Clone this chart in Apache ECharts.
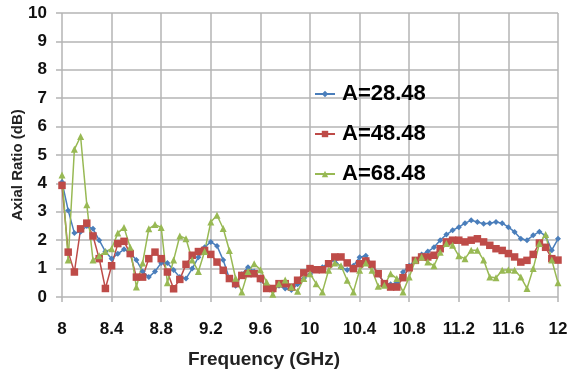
<!DOCTYPE html>
<html>
<head>
<meta charset="utf-8">
<script src="https://cdn.jsdelivr.net/npm/echarts@6/dist/echarts.min.js"></script>
<style>
  html, body { margin: 0; padding: 0; background: #fff; }
  #chart { width: 569px; height: 374px; }
</style>
</head>
<body>
<div id="chart"></div>
<script>
// frequency points (GHz), 0.05 step
const freq = [];
for (let i = 0; i <= 80; i++) freq.push(+(8 + i * 0.05).toFixed(2));

const xTicks = [8, 8.4, 8.8, 9.2, 9.6, 10, 10.4, 10.8, 11.2, 11.6, 12];
const seriesNames = ["A=28.48", "A=48.48", "A=68.48"];

// axial ratio (dB)
const arA28 = [
  4.05, 3.05, 2.25, 2.3, 2.5, 2.4, 2.0, 1.6, 1.35, 1.52,
  1.68, 1.55, 1.3, 0.9, 0.7, 0.9, 1.2, 1.2, 0.95, 0.7,
  0.65, 1.0, 1.4, 1.75, 1.94, 1.8, 1.3, 0.65, 0.4, 0.8,
  1.05, 0.9, 0.6, 0.35, 0.3, 0.4, 0.3, 0.25, 0.45, 0.65,
  0.8, 0.95, 1.05, 1.2, 1.3, 1.05, 0.95, 1.1, 1.4, 1.45,
  1.15, 0.8, 0.5, 0.45, 0.5, 0.88, 1.1, 1.3, 1.5, 1.6,
  1.75, 2.0, 2.2, 2.35, 2.46, 2.6, 2.7, 2.64, 2.58, 2.6,
  2.64, 2.6, 2.46, 2.29, 2.05, 2.0, 2.17, 2.3, 2.15, 1.65,
  2.05
];
const arA48 = [
  3.93, 1.58, 0.88, 2.4, 2.6, 2.15, 1.35, 0.3, 1.1, 1.88,
  1.96, 1.53, 0.7, 0.7, 1.35, 1.58, 1.35, 0.88, 0.29, 0.62,
  1.15, 1.47, 1.6, 1.64, 1.5, 1.23, 0.94, 0.65, 0.47, 0.76,
  0.82, 0.82, 0.65, 0.3, 0.3, 0.47, 0.47, 0.35, 0.59, 0.85,
  1.0, 0.96, 0.96, 1.17, 1.41, 1.41, 1.2, 1.0, 1.17, 1.27,
  1.15, 0.82, 0.47, 0.35, 0.35, 0.68, 1.03, 1.29, 1.41, 1.41,
  1.47, 1.7, 1.94, 2.0, 2.0, 1.94, 2.0, 2.05, 1.94, 1.82,
  1.7, 1.64, 1.53, 1.41, 1.23, 1.29, 1.5, 1.9, 1.75, 1.35,
  1.3
];
const arA68 = [
  4.3, 1.3, 5.2, 5.65, 3.25, 1.3, 1.45, 1.6, 1.7, 2.25,
  2.45, 1.75, 0.35, 1.2, 2.4, 2.55, 2.45, 0.5, 1.3, 2.15,
  2.05, 1.3, 0.9, 1.6, 2.64, 2.88, 2.41, 1.64, 0.66, 0.18,
  0.9, 1.17, 0.96, 0.53, 0.1, 0.47, 0.6, 0.35, 0.2, 0.65,
  0.82, 0.47, 0.18, 0.94, 1.2, 1.1, 0.59, 0.18, 0.94, 1.2,
  0.94, 0.38, 0.41, 0.82, 0.65, 0.18, 0.7, 1.29, 1.41, 1.23,
  1.1, 1.58, 1.88, 1.82, 1.45, 1.35, 1.65, 1.65, 1.3, 0.7,
  0.68, 0.94, 0.96, 0.94, 0.7, 0.3, 1.0, 1.88, 2.2, 1.3,
  0.5
];

const colors = ["#4a7ebb", "#be4b48", "#98b954"];
const symbols = ["diamond", "rect", "triangle"];
const sizes = [6, 7.5, 7];
const FONT = "Liberation Sans";

const chart = echarts.init(document.getElementById("chart"));

const makeSeries = (name, vals, idx) => ({
  name: name,
  type: "line",
  data: freq.map((f, i) => [f, vals[i]]),
  symbol: symbols[idx],
  symbolSize: sizes[idx],
  showAllSymbol: true,
  color: colors[idx],
  lineStyle: { width: 1.5, color: colors[idx] },
  itemStyle: { color: colors[idx] },
});

chart.setOption({
  animation: false,
  grid: { left: 62, right: 11, top: 13, bottom: 77, outerBoundsMode: "none" },
  legend: {
    orient: "vertical",
    left: 309,
    top: 78,
    itemGap: 18,
    itemWidth: 20,
    itemHeight: 8,
    textStyle: {
      fontFamily: FONT, fontSize: 22, fontWeight: "bold", color: "#000",
      padding: [0, 0, 0, 2],
    },
    data: seriesNames,
  },
  xAxis: {
    type: "value",
    min: 8,
    max: 12,
    interval: 0.4,
    name: "Frequency (GHz)",
    nameLocation: "middle",
    nameGap: 53,
    nameMoveOverlap: false,
    nameTextStyle: {
      fontFamily: FONT, fontSize: 19, fontWeight: "bold", color: "#222",
      padding: [0, 92, 0, 0],
    },
    axisLine: { show: false },
    axisTick: { show: true, length: 5, lineStyle: { color: "#b4b4b4", width: 1.5 } },
    axisLabel: {
      margin: 24,
      fontFamily: FONT,
      fontSize: 17,
      fontWeight: "bold",
      color: "#111",
      formatter: (v) => {
        const t = xTicks.find((x) => Math.abs(x - v) < 1e-6);
        return t === undefined ? "" : String(t);
      },
    },
    splitLine: { show: true, lineStyle: { color: "#b4b4b4", width: 1.5 } },
  },
  yAxis: {
    type: "value",
    min: 0,
    max: 10,
    interval: 1,
    name: "Axial Ratio (dB)",
    nameLocation: "middle",
    nameGap: 37,
    nameMoveOverlap: false,
    nameTextStyle: {
      fontFamily: FONT, fontSize: 15, fontWeight: "bold", color: "#222",
      padding: [0, 20, 0, 0],
    },
    axisLine: { show: false },
    axisTick: { show: true, length: 6, lineStyle: { color: "#b4b4b4", width: 1.5 } },
    axisLabel: { margin: 15, fontFamily: FONT, fontSize: 17, fontWeight: "bold", color: "#111" },
    splitLine: { show: true, lineStyle: { color: "#b4b4b4", width: 1.5 } },
  },
  series: [
    makeSeries(seriesNames[0], arA28, 0),
    makeSeries(seriesNames[1], arA48, 1),
    makeSeries(seriesNames[2], arA68, 2),
  ],
});
</script>
</body>
</html>
